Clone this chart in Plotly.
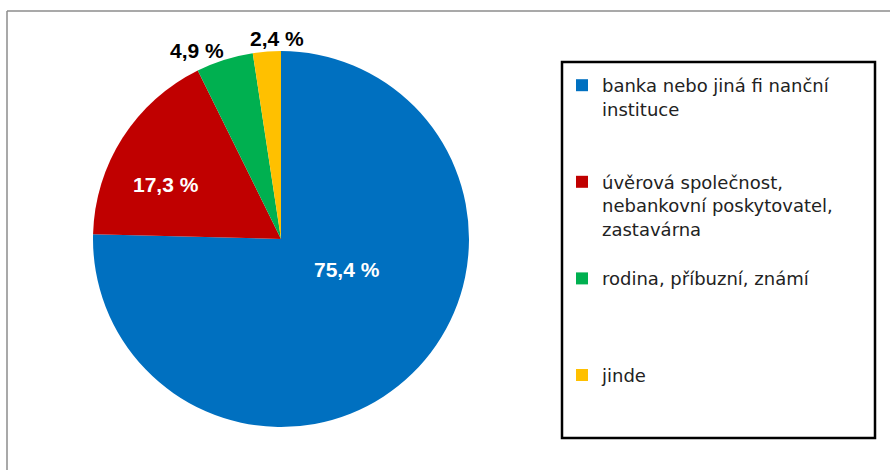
import plotly.graph_objects as go

# data
labels = [
    'banka nebo jiná fi nanční<br>instituce',
    'úvěrová společnost,<br>nebankovní poskytovatel,<br>zastavárna',
    'rodina, příbuzní, známí',
    'jinde',
]
values = [75.4, 17.3, 4.9, 2.4]
colors = ['#0070C0', '#C00000', '#00B050', '#FFC000']

W, H = 890, 470

def px_x(x):
    return x / W

def px_y(y):
    return 1 - y / H

# blank lines after each legend entry, to spread them like the original
pad = [2, 1, 3, 0]
names = [lab + '<br>\u00a0' * p for lab, p in zip(labels, pad)]
texts = [f'{v:.1f}'.replace('.', ',') + ' %' for v in values]

# where Excel put the data labels (pixel centres) and their colours
label_pos = [(347, 269), (166, 184), (197, 50), (277, 39)]
label_col = ['white', 'white', 'black', 'black']

cx, cy, r = 281, 239, 188

fig = go.Figure(go.Pie(
    labels=names,
    values=values,
    textinfo='none',
    sort=False,
    direction='clockwise',
    rotation=0,
    marker=dict(colors=colors, line=dict(width=0)),
    domain=dict(x=[px_x(cx - r), px_x(cx + r)], y=[px_y(cy + r), px_y(cy - r)]),
))

for t, (x, y), c in zip(texts, label_pos, label_col):
    fig.add_annotation(
        x=px_x(x), y=px_y(y), xref='paper', yref='paper',
        xanchor='center', yanchor='middle',
        text=t, showarrow=False,
        font=dict(family='Liberation Sans', size=21, color=c, weight='bold'),
    )

fig.update_layout(
    width=W,
    height=H,
    margin=dict(l=0, r=0, t=0, b=0),
    paper_bgcolor='white',
    plot_bgcolor='white',
    legend=dict(
        x=px_x(562),
        y=px_y(67),
        xanchor='left',
        yanchor='top',
        valign='top',
        itemwidth=30,
        bgcolor='rgba(0,0,0,0)',
        borderwidth=0,
        font=dict(family='DejaVu Sans', size=18, color='#222222'),
    ),
    shapes=[
        # legend frame
        dict(type='rect', xref='paper', yref='paper',
             x0=px_x(562), x1=px_x(875), y0=px_y(438), y1=px_y(62),
             line=dict(color='black', width=2.5)),
        # outer chart frame (top and left edges)
        dict(type='line', xref='paper', yref='paper',
             x0=px_x(7), x1=1.0, y0=px_y(11), y1=px_y(11),
             line=dict(color='#8c8c8c', width=1.5)),
        dict(type='line', xref='paper', yref='paper',
             x0=px_x(7), x1=px_x(7), y0=0, y1=px_y(11),
             line=dict(color='#8c8c8c', width=1.5)),
    ],
)

fig.write_html('out.html', config={'displayModeBar': False},
               post_script="document.body.style.margin='0';")
